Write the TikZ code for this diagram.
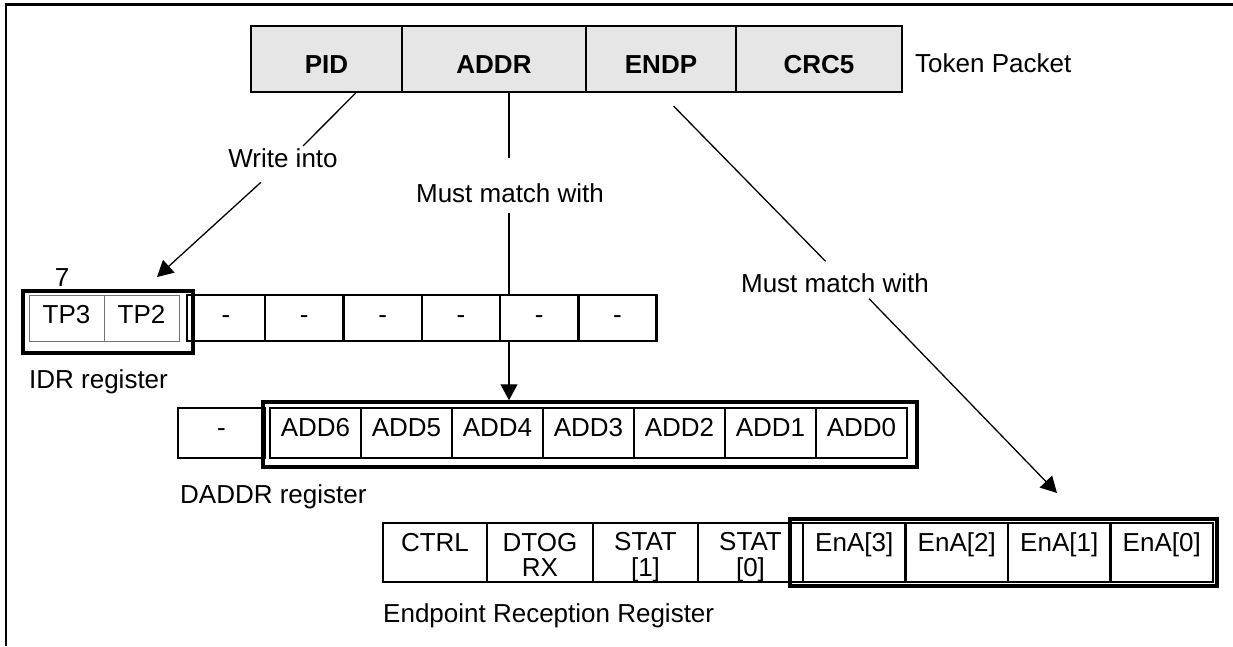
\documentclass[tikz,border=0pt]{standalone}
\usepackage{fontspec}
\setmainfont{Liberation Sans}
\usetikzlibrary{arrows.meta,calc}
\definecolor{fieldgray}{RGB}{230,230,230}
\newcommand{\twolines}[2]{\begin{tabular}[b]{@{}c@{}}#1\\{}#2\end{tabular}}

\tikzset{
  field/.style={draw, line width=2.5pt, fill=fieldgray, inner sep=0pt,
    minimum height=66, font=\bfseries, text height=28.6pt, text depth=0pt},
  idrbit/.style={draw, line width=2.5pt, inner sep=0pt, minimum width=78.3,
    minimum height=46, text height=10.6pt, text depth=0pt},
  tpbit/.style={idrbit, line width=0.9pt, draw=black!55},
  addrbit/.style={draw, line width=2.5pt, inner sep=0pt, minimum width=91,
    minimum height=50, text height=7.4pt, text depth=0pt},
  epbit/.style={draw, line width=2.5pt, inner sep=0pt, minimum height=59,
    text height=0pt, text depth=1.6pt},
  eptwo/.style={epbit, text height=48.4pt, text depth=0pt},
  picked/.style={draw, line width=3.5pt, inner sep=0pt},
  regname/.style={anchor=base west, inner sep=0pt},
  tag/.style={anchor=base, inner sep=2pt},
  wire/.style={line width=1.3pt}
}

\begin{document}
\begin{tikzpicture}[x=1pt, y=-1pt, >={Triangle[width=17pt,length=16pt]}]

  \fontsize{26}{25}\selectfont

  \newcommand\Wi{78.3}
  \newcommand\Yi{318}
  \newcommand\Wa{91}
  \newcommand\Ya{433}
  \newcommand\We{102.5}
  \newcommand\Ye{552.5}

  \useasboundingbox (0,0) rectangle (1233,646);
  \draw[line width=2.5pt] (6,646) -- (6,4.7) -- (1233,4.7);

  %% token packet
  \node[field, minimum width=151] (pid) at (326.5,59) {PID};
  \node[field, minimum width=184] (addr) at (494,59) {ADDR};
  \node[field, minimum width=150] (endp) at (661,59) {ENDP};
  \node[field, minimum width=166] (crc) at (819,59) {CRC5};
  \node[regname] (tok) at (915,72) {Token Packet};

  %% IDR register
  \node[tpbit, minimum width=75] (tp3) at (66.5,\Yi) {TP3};
  \node[tpbit, minimum width=75] (tp2) at (141.5,\Yi) {TP2};
  \node[idrbit] (c1) at (226+0*\Wi,\Yi) {-};
  \node[idrbit] (c2) at (226+1*\Wi,\Yi) {-};
  \node[idrbit] (c3) at (226+2*\Wi,\Yi) {-};
  \node[idrbit] (c4) at (226+3*\Wi,\Yi) {-};
  \node[idrbit] (c5) at (226+4*\Wi,\Yi) {-};
  \node[idrbit] (c6) at (226+5*\Wi,\Yi) {-};
  \node[picked, minimum width=170, minimum height=62] (selI) at (108,322) {};
  \node[anchor=base, inner sep=0pt] (seven) at (62,286) {7};
  \node[regname] (idr) at (29,388) {IDR register};

  %% DADDR register
  \node[addrbit, minimum width=87] (a7) at (221.5,\Ya) {-};
  \node[addrbit] (add6) at (315.5+0*\Wa,\Ya) {ADD6};
  \node[addrbit] (add5) at (315.5+1*\Wa,\Ya) {ADD5};
  \node[addrbit] (add4) at (315.5+2*\Wa,\Ya) {ADD4};
  \node[addrbit] (add3) at (315.5+3*\Wa,\Ya) {ADD3};
  \node[addrbit] (add2) at (315.5+4*\Wa,\Ya) {ADD2};
  \node[addrbit] (add1) at (315.5+5*\Wa,\Ya) {ADD1};
  \node[addrbit] (add0) at (315.5+6*\Wa,\Ya) {ADD0};
  \node[picked, minimum width=654, minimum height=65] (selA) at (590,434.5) {};
  \node[regname] (daddr) at (180,503) {DADDR register};

  %% endpoint reception register
  \node[epbit, minimum width=104] (ctrl) at (435,\Ye) {CTRL};
  \node[eptwo, minimum width=106] (dtog) at (540,\Ye) {\twolines{DTOG}{RX}};
  \node[eptwo, minimum width=105] (stat1) at (645.5,\Ye) {\twolines{STAT}{[1]}};
  \node[eptwo, minimum width=105] (stat0) at (750.5,\Ye) {\twolines{STAT}{[0]}};
  \node[epbit, minimum width=\We] (ena3) at (854.25+0*\We,\Ye) {EnA[3]};
  \node[epbit, minimum width=\We] (ena2) at (854.25+1*\We,\Ye) {EnA[2]};
  \node[epbit, minimum width=\We] (ena1) at (854.25+2*\We,\Ye) {EnA[1]};
  \node[epbit, minimum width=\We] (ena0) at (854.25+3*\We,\Ye) {EnA[0]};
  \node[picked, minimum width=427, minimum height=67] (selE) at (1003.5,\Ye) {};
  \node[regname] (eprx) at (383,622) {Endpoint Reception Register};

  %% labels on the wires
  \node[tag] (wi) at (283,167) {Write into};
  \node[tag] (mm1) at (510,202) {Must match with};
  \node[tag] (mm2) at (835,292) {Must match with};

  \coordinate (pidout) at ([xshift=29]pid.south);
  \coordinate (addrout) at ([xshift=15]addr.south);
  \coordinate (idrtip) at (157,277);
  \coordinate (enatip) at (1057,493);

  \draw[wire] (pidout) -- ([xshift=20]wi.north); %% PID->IDR
  \draw[wire, ->, shorten <=19pt] ([xshift=-8]wi.south) -- (idrtip);

  \draw[wire, shorten >=23pt] (addrout) -- (addrout |- mm1.north); %% ADDR->DADDR
  \draw[wire, shorten <=9pt] (addrout |- mm1.south) -- (addrout |- c5.north);
  \draw[wire, ->] (addrout |- c5.south) -- (addrout |- selA.north);

  \draw[wire, shorten <=18pt, shorten >=13.5pt] (endp.south) -- (mm2.north); %% ENDP->EnA
  \draw[wire, ->, shorten <=6pt] ([xshift=30]mm2.south) -- (enatip);
\end{tikzpicture}
\end{document}
